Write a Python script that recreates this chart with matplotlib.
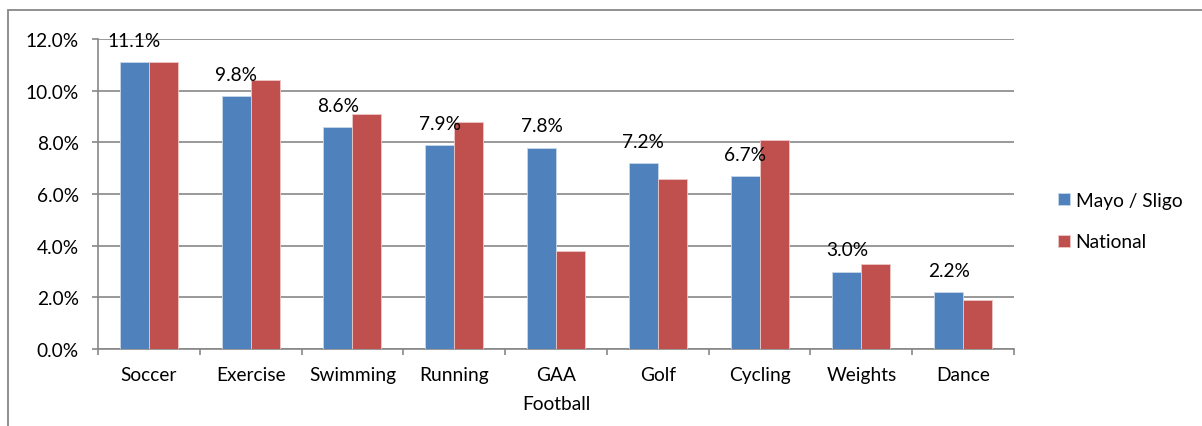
import matplotlib
matplotlib.use("Agg")
import matplotlib.pyplot as plt
from matplotlib.patches import Rectangle
import numpy as np

plt.rcParams['font.family'] = ['Lato', 'DejaVu Sans']

categories = ["Soccer", "Exercise", "Swimming", "Running", "GAA\nFootball",
              "Golf", "Cycling", "Weights", "Dance"]
mayo_sligo = [11.1, 9.8, 8.6, 7.9, 7.8, 7.2, 6.7, 3.0, 2.2]
national = [11.1, 10.4, 9.1, 8.8, 3.8, 6.6, 8.1, 3.3, 1.9]
series_names = ["Mayo / Sligo", "National"]
y_ticks = [0, 2, 4, 6, 8, 10, 12]

BLUE = "#4F81BD"
RED = "#C0504D"
GRID = "#878787"
FS = 13.8

W, H = 1202, 427
fig = plt.figure(figsize=(W / 100, H / 100), dpi=100)

# outer chart-area border
fig.add_artist(Rectangle((7.5 / W, -0.1), 1.2, (H - 10.5) / H + 0.1,
                         transform=fig.transFigure, fill=False,
                         edgecolor=GRID, linewidth=1.3))

ax = fig.add_axes([98 / W, (H - 350) / H, (1014 - 98) / W, 310 / H])

x = np.arange(len(categories))
bw = 0.285
b1 = ax.bar(x - bw / 2, mayo_sligo, bw, color=BLUE, edgecolor="#C9D7EA",
            linewidth=0.6, label=series_names[0], zorder=3)
b2 = ax.bar(x + bw / 2, national, bw, color=RED, edgecolor="#ECC8C7",
            linewidth=0.6, label=series_names[1], zorder=3)

for xi, v in zip(x, mayo_sligo):
    ax.annotate(f"{v:.1f}%", (xi - bw / 2, v), xytext=(0, 9.5),
                textcoords="offset points", ha="center", va="bottom",
                fontsize=FS, color="black", zorder=5)

ax.set_xlim(-0.5, len(categories) - 0.5)
ax.set_ylim(0, 12)
ax.set_yticks(y_ticks)
ax.set_yticklabels([f"{t:.1f}%" for t in y_ticks], fontsize=FS)
ax.yaxis.grid(True, color=GRID, linewidth=1.2, zorder=0)
ax.set_axisbelow(True)

ax.set_xticks(np.arange(-0.5, len(categories), 1.0))
ax.set_xticklabels([])
ax.set_xticks(x, minor=True)
ax.set_xticklabels(categories, minor=True, fontsize=FS)
for lbl in ax.get_xticklabels(minor=True):
    lbl.set_linespacing(1.85)
ax.tick_params(axis="x", which="minor", length=0, pad=12.5)
ax.tick_params(axis="x", which="major", length=4.3, color=GRID, width=1.2)
ax.tick_params(axis="y", length=4.3, color=GRID, width=1.2, pad=9.5)

for s in ["top", "right"]:
    ax.spines[s].set_visible(False)
for s in ["left", "bottom"]:
    ax.spines[s].set_color(GRID)
    ax.spines[s].set_linewidth(1.2)

fig.legend(handles=[b1, b2], labels=series_names, loc="center left",
           bbox_to_anchor=(1041 / W, 1 - 222 / H), frameon=False,
           fontsize=FS, handlelength=0.6, handleheight=0.6,
           handletextpad=0.3, labelspacing=1.3)

fig.savefig("out.png", dpi=100, facecolor="white")
